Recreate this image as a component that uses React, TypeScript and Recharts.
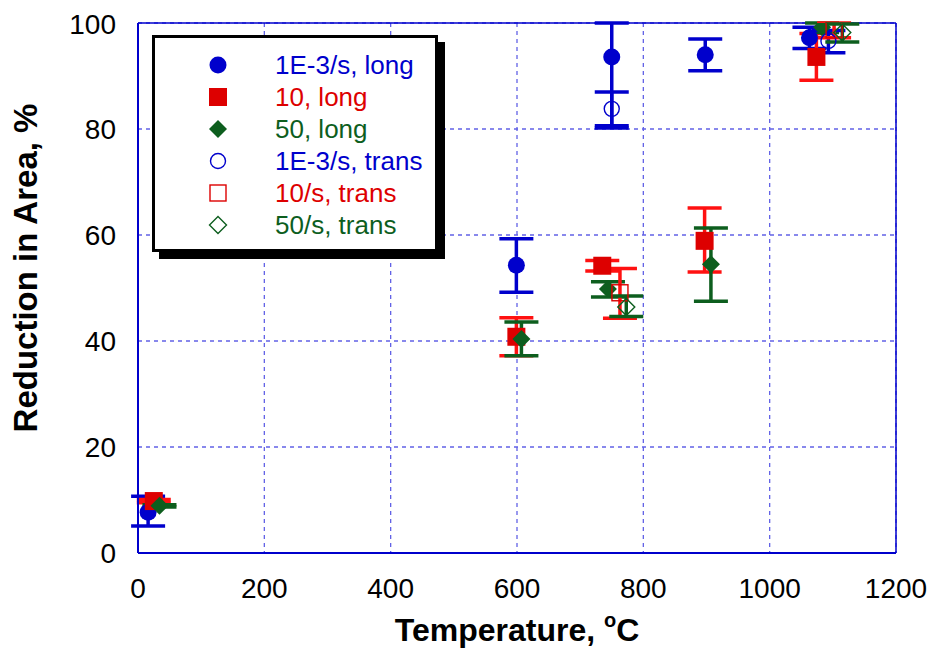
import React from 'react';
import { ScatterChart, Scatter, XAxis, YAxis, CartesianGrid, ErrorBar, ReferenceLine } from 'recharts';

// ---- data ----
const xTicks = [0, 200, 400, 600, 800, 1000, 1200];
const yTicks = [0, 20, 40, 60, 80, 100];

const blueLongX = [16, 599, 750, 898, 1063];
const blueLongY = [7.7, 54.3, 93.6, 94.0, 97.2];
const blueLongLo = [2.6, 5.1, 13.4, 3.0, 2.0];
const blueLongHi = [3.0, 5.0, 6.4, 3.0, 2.0];

const redLongX = [25, 599, 735, 897, 1074];
const redLongY = [9.8, 40.8, 54.2, 58.9, 93.6];
const redLongLo = [0.3, 3.6, 1.0, 5.9, 4.4];
const redLongHi = [0.3, 3.6, 1.0, 6.2, 4.4];

const greenLongX = [34, 607, 744, 907, 1083];
const greenLongY = [8.9, 40.4, 49.8, 54.5, 99.2];
const greenLongLo = [0.2, 3.2, 1.5, 7.0, 1.0];
const greenLongHi = [0.2, 3.2, 1.4, 6.8, 0.8];

const blueTransX = [750, 1093];
const blueTransY = [83.8, 96.6];
const blueTransLo = [3.2, 2.2];
const blueTransHi = [3.2, 2.0];

const redTransX = [763, 1102];
const redTransY = [49.1, 98.7];
const redTransLo = [4.8, 1.5];
const redTransHi = [4.6, 1.3];

const greenTransX = [773, 1115];
const greenTransY = [46.4, 98.2];
const greenTransLo = [1.8, 1.8];
const greenTransHi = [2.1, 1.6];

const legendLabels = ['1E-3/s, long', '10, long', '50, long', '1E-3/s, trans', '10/s, trans', '50/s, trans'];

// ---- styles ----
const BLUE = '#0000cc';
const RED = '#dd0000';
const RED_ERR = '#ff1111';
const GREEN = '#0d5e1e';
const GRID = '#6262e6';
const FONT = 'Arial, "Liberation Sans", sans-serif';

const build = (xs: number[], ys: number[], lo: number[], hi: number[]) =>
  xs.map((x, i) => ({ x, y: ys[i], err: [lo[i], hi[i]] }));

const blueLong = build(blueLongX, blueLongY, blueLongLo, blueLongHi);
const redLong = build(redLongX, redLongY, redLongLo, redLongHi);
const greenLong = build(greenLongX, greenLongY, greenLongLo, greenLongHi);
const blueTrans = build(blueTransX, blueTransY, blueTransLo, blueTransHi);
const redTrans = build(redTransX, redTransY, redTransLo, redTransHi);
const greenTrans = build(greenTransX, greenTransY, greenTransLo, greenTransHi);

const FilledCircle = (p: any) => <circle cx={p.cx} cy={p.cy} r={8.5} fill={BLUE} />;
const FilledSquare = (p: any) => <rect x={p.cx - 9} y={p.cy - 9} width={18} height={18} fill={RED} />;
const FilledDiamond = (p: any) => (
  <polygon points={`${p.cx},${p.cy - 9} ${p.cx + 9},${p.cy} ${p.cx},${p.cy + 9} ${p.cx - 9},${p.cy}`} fill={GREEN} />
);
const OpenCircle = (p: any) => <circle cx={p.cx} cy={p.cy} r={7.5} fill="none" stroke={BLUE} strokeWidth={1.4} />;
const OpenSquare = (p: any) => (
  <rect x={p.cx - 8} y={p.cy - 8} width={16} height={16} fill="none" stroke={RED} strokeWidth={1.4} />
);
const OpenDiamond = (p: any) => (
  <polygon
    points={`${p.cx},${p.cy - 8.5} ${p.cx + 8.5},${p.cy} ${p.cx},${p.cy + 8.5} ${p.cx - 8.5},${p.cy}`}
    fill="none"
    stroke={GREEN}
    strokeWidth={1.4}
  />
);

const legendColors = [BLUE, RED, GREEN, BLUE, RED, GREEN];
const legendShapes = [FilledCircle, FilledSquare, FilledDiamond, OpenCircle, OpenSquare, OpenDiamond];

const XTitle = (props: any) => {
  const vb = props.viewBox;
  const cx = vb.x + vb.width / 2;
  return (
    <text x={cx} y={vb.y + 88} textAnchor="middle" fontFamily={FONT} fontWeight="bold" fontSize={32} fill="#000">
      <tspan>Temperature, </tspan>
      <tspan fontSize={20} dy={-14}>o</tspan>
      <tspan dy={14}>C</tspan>
    </text>
  );
};

const YTitle = (props: any) => {
  const vb = props.viewBox;
  const cy = vb.y + vb.height / 2 - 20;
  const x = 29;
  return (
    <text
      x={x}
      y={cy}
      transform={`rotate(-90, ${x}, ${cy})`}
      textAnchor="middle"
      fontFamily={FONT}
      fontWeight="bold"
      fontSize={33}
      fill="#000"
    >
      Reduction in Area, %
    </text>
  );
};

const errProps = { direction: 'y' as const, dataKey: 'err', width: 17, strokeWidth: 3.5 };

export default function App() {
  return (
    <div style={{ position: 'relative', width: 927, height: 641 }}>
      <ScatterChart width={927} height={641} margin={{ top: 15, right: 39, bottom: 0, left: 0 }}>
        <CartesianGrid stroke={GRID} strokeDasharray="4 4" strokeWidth={1.3} />
        <XAxis
          type="number"
          dataKey="x"
          domain={[0, 1200]}
          ticks={xTicks}
          allowDataOverflow
          height={96}
          tickLine={false}
          tickMargin={19}
          axisLine={{ stroke: BLUE, strokeWidth: 2 }}
          tick={{ fontSize: 28, fill: '#000', fontFamily: FONT }}
          label={<XTitle />}
        />
        <YAxis
          type="number"
          dataKey="y"
          domain={[0, 100]}
          ticks={yTicks}
          allowDataOverflow
          width={130}
          tickLine={false}
          tickMargin={16}
          axisLine={{ stroke: BLUE, strokeWidth: 2 }}
          tick={{ fontSize: 28, fill: '#000', fontFamily: FONT }}
          label={<YTitle />}
        />
        <ReferenceLine y={100} stroke={BLUE} strokeWidth={1.5} />
        <ReferenceLine x={1200} stroke={BLUE} strokeWidth={1.5} />
        <Scatter data={blueLong} shape={FilledCircle} isAnimationActive={false}>
          <ErrorBar {...errProps} stroke={BLUE} />
        </Scatter>
        <Scatter data={redLong} shape={FilledSquare} isAnimationActive={false}>
          <ErrorBar {...errProps} stroke={RED_ERR} />
        </Scatter>
        <Scatter data={greenLong} shape={FilledDiamond} isAnimationActive={false}>
          <ErrorBar {...errProps} stroke={GREEN} />
        </Scatter>
        <Scatter data={blueTrans} shape={OpenCircle} isAnimationActive={false}>
          <ErrorBar {...errProps} stroke={BLUE} />
        </Scatter>
        <Scatter data={redTrans} shape={OpenSquare} isAnimationActive={false}>
          <ErrorBar {...errProps} stroke={RED_ERR} />
        </Scatter>
        <Scatter data={greenTrans} shape={OpenDiamond} isAnimationActive={false}>
          <ErrorBar {...errProps} stroke={GREEN} />
        </Scatter>
      </ScatterChart>
      <div
        style={{
          position: 'absolute',
          left: 144,
          top: 27,
          width: 280,
          height: 211,
          border: '3px solid #000',
          background: '#fff',
          boxShadow: '7px 7px 0 #000',
          fontFamily: FONT,
        }}
      >
        {legendLabels.map((label, i) => {
          const Shape = legendShapes[i];
          return (
            <div key={label} style={{ position: 'absolute', left: 0, top: 14 + i * 32, height: 26, width: 280 }}>
              <svg width={30} height={26} style={{ position: 'absolute', left: 48, top: 0 }}>
                <Shape cx={15} cy={13} />
              </svg>
              <span
                style={{
                  position: 'absolute',
                  left: 120,
                  top: 0,
                  fontSize: 26,
                  lineHeight: '26px',
                  color: legendColors[i],
                  whiteSpace: 'nowrap',
                }}
              >
                {label}
              </span>
            </div>
          );
        })}
      </div>
    </div>
  );
}
